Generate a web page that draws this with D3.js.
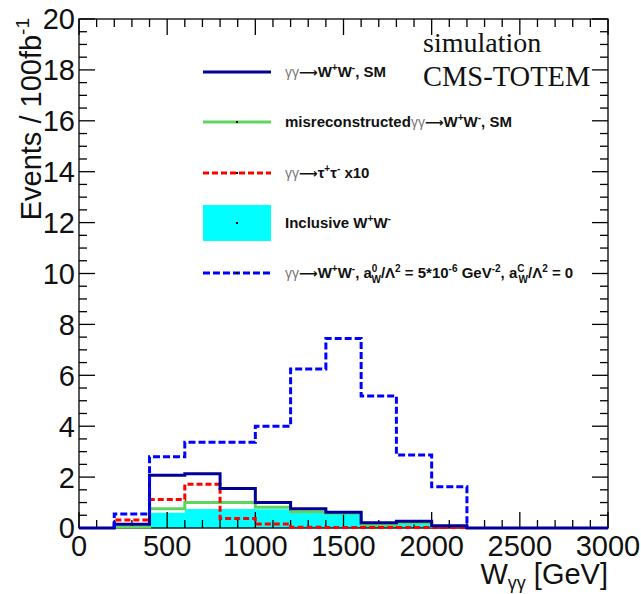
<!DOCTYPE html>
<html>
<head>
<meta charset="utf-8">
<script src="https://cdn.jsdelivr.net/npm/d3@7"></script>
<style>
  body { margin: 0; background: #fff; }
  svg { font-family: "Liberation Sans", Arial, sans-serif; }
</style>
</head>
<body>
<svg id="chart" width="641" height="594"></svg>
<script>
// bins are 200 GeV wide, lower edges below
var binLow = [0, 200, 400, 600, 800, 1000, 1200, 1400, 1600, 1800, 2000, 2200, 2400, 2600, 2800];
var binWidth = 200;

// events / 100 fb-1 (null = bin not drawn)
var smWW      = [0, 0.15, 2.07, 2.13, 1.55, 1.0, 0.76, 0.62, 0.21, 0.27, 0.09, 0, 0, 0, 0];
var misreco   = [null, 0.04, 0.76, 1.0, 1.0, 0.82, 0.64, 0.58, 0.12, 0.2, null, null, null, null, null];
var tautau10  = [null, 0.31, 1.12, 1.72, 0.37, 0.16, 0.03, 0.02, 0.02, 0.02, 0.02, null, null, null, null];
var inclWW    = [null, null, 0.6, 0.75, 0.75, 0.74, 0.66, 0.58, 0.1, 0.2, null, null, null, null, null];
var anomalous = [null, 0.55, 2.8, 3.37, 3.37, 4.0, 6.25, 7.45, 5.19, 2.87, 1.62, null, null, null, null];

var yMajor = [0, 2, 4, 6, 8, 10, 12, 14, 16, 18, 20];
var xMajor = [0, 500, 1000, 1500, 2000, 2500, 3000];

var svg = d3.select("#chart");

var padL = 79, padR = 608, padT = 19, padB = 528;

var x = d3.scaleLinear().domain([0, 3000]).range([padL, padR]);
var y = d3.scaleLinear().domain([0, 20]).range([padB, padT]);

// turn a series into step points, from first drawn bin to last one
function steps(vals) {
  var pts = [];
  var first = -1, last = -1;
  vals.forEach(function(v, i) {
    if (v === null) return;
    if (first < 0) first = i;
    last = i;
  });
  pts.push([binLow[first], 0]);
  for (var i = first; i <= last; i++) {
    pts.push([binLow[i], vals[i]]);
    pts.push([binLow[i] + binWidth, vals[i]]);
  }
  pts.push([binLow[last] + binWidth, 0]);
  return pts;
}

var line = d3.line()
  .x(function(d) { return x(d[0]); })
  .y(function(d) { return y(d[1]); });

var area = d3.area()
  .x(function(d) { return x(d[0]); })
  .y0(y(0))
  .y1(function(d) { return y(d[1]); });

// inclusive WW filled
svg.append("path")
  .attr("d", area(steps(inclWW)))
  .attr("fill", "#00ffff");

// axis ticks and frame, drawn over the fill
var axisG = svg.append("g").attr("stroke", "#000").attr("stroke-width", 1.3);

var yMinor = d3.range(0, 20.01, 0.5);
yMinor.forEach(function(v) {
  var major = v % 2 === 0;
  var len = major ? 16 : 8;
  axisG.append("line").attr("x1", padL).attr("x2", padL + len)
    .attr("y1", y(v)).attr("y2", y(v));
  axisG.append("line").attr("x1", padR).attr("x2", padR - len)
    .attr("y1", y(v)).attr("y2", y(v));
});
var xMinor = d3.range(0, 3001, 100);
xMinor.forEach(function(v) {
  var major = v % 500 === 0;
  var len = major ? 16 : 8;
  axisG.append("line").attr("x1", x(v)).attr("x2", x(v))
    .attr("y1", padB).attr("y2", padB - len);
  axisG.append("line").attr("x1", x(v)).attr("x2", x(v))
    .attr("y1", padT).attr("y2", padT + len);
});
axisG.append("rect")
  .attr("x", padL).attr("y", padT)
  .attr("width", padR - padL).attr("height", padB - padT)
  .attr("fill", "none");

// histograms
var series = [
  { vals: misreco,   color: "#5fd35f", dash: null },
  { vals: tautau10,  color: "#ff0000", dash: "6,3" },
  { vals: smWW,      color: "#000099", dash: null },
  { vals: anomalous, color: "#0000ff", dash: "7,3" }
];
series.forEach(function(s) {
  svg.append("path")
    .attr("d", line(steps(s.vals)))
    .attr("fill", "none")
    .attr("stroke", s.color)
    .attr("stroke-width", 3)
    .attr("stroke-dasharray", s.dash);
});

// tick labels
svg.selectAll(".ylab").data(yMajor).enter().append("text")
  .attr("class", "ylab")
  .attr("x", padL - 4)
  .attr("y", function(d) { return y(d); })
  .attr("dy", "0.36em")
  .attr("text-anchor", "end")
  .attr("font-size", 29)
  .attr("fill", "#111")
  .text(function(d) { return d; });

svg.selectAll(".xlab").data(xMajor).enter().append("text")
  .attr("class", "xlab")
  .attr("x", function(d) { return x(d); })
  .attr("y", 556)
  .attr("text-anchor", "middle")
  .attr("font-size", 29)
  .attr("fill", "#111")
  .text(function(d) { return d; });

// axis titles
var yt = svg.append("text")
  .attr("transform", "translate(41,18) rotate(-90)")
  .attr("text-anchor", "end")
  .attr("font-size", 29)
  .attr("fill", "#111");
yt.append("tspan").text("Events / 100fb");
yt.append("tspan").attr("font-size", 19).attr("dy", -12).text("-1");

var xt = svg.append("text")
  .attr("x", padR)
  .attr("y", 584)
  .attr("text-anchor", "end")
  .attr("font-size", 29)
  .attr("fill", "#111");
xt.append("tspan").text("W");
xt.append("tspan").attr("font-size", 18).attr("dy", 5).text("γγ");
xt.append("tspan").attr("dy", -5).text(" [GeV]");

// simulation label
svg.append("text").attr("x", 423).attr("y", 52)
  .attr("font-family", "Liberation Serif, serif").attr("font-size", 28)
  .attr("fill", "#111").text("simulation");
svg.append("text").attr("x", 423).attr("y", 86)
  .attr("font-family", "Liberation Serif, serif").attr("font-size", 28.5)
  .attr("fill", "#111").text("CMS-TOTEM");

// legend
var legendRows = [72, 122, 173, 223, 273];
var legendKind = ["line", "line", "line", "box", "line"];
var legendColor = ["#000099", "#5fd35f", "#ff0000", "#00ffff", "#0000ff"];
var legendDash = [null, null, "6,3", null, "7,3"];

// text pieces: g = greek symbol font, a = arrow, b = bold, sup / sub
var legendText = [
  [["γγ", "g"], ["⟶", "a"], ["W", "b"], ["+", "sup"], ["W", "b"], ["-", "sup"], [", SM", "b"]],
  [["misreconstructed", "b"], ["γγ", "g"], ["⟶", "a"], ["W", "b"], ["+", "sup"], ["W", "b"], ["-", "sup"], [", SM", "b"]],
  [["γγ", "g"], ["⟶", "a"], ["τ", "b"], ["+", "sup"], ["τ", "b"], ["-", "sup"], [" x10", "b"]],
  [["Inclusive W", "b"], ["+", "sup"], ["W", "b"], ["-", "sup"]],
  [["γγ", "g"], ["⟶", "a"], ["W", "b"], ["+", "sup"], ["W", "b"], ["-", "sup"], [", a", "b"], ["0", "supsub"], ["W", "sub"],
   ["/Λ", "b"], ["2", "sup"], [" = 5*10", "b"], ["-6", "sup"], [" GeV", "b"], ["-2", "sup"], [", a", "b"],
   ["C", "supsub"], ["W", "sub"], ["/Λ", "b"], ["2", "sup"], [" = 0", "b"]]
];

var lg = svg.append("g");
legendRows.forEach(function(ry, i) {
  if (legendKind[i] === "box") {
    lg.append("rect").attr("x", 203).attr("y", ry - 18)
      .attr("width", 68).attr("height", 36).attr("fill", legendColor[i]);
  } else {
    lg.append("line").attr("x1", 203).attr("x2", 271)
      .attr("y1", ry).attr("y2", ry)
      .attr("stroke", legendColor[i]).attr("stroke-width", 3)
      .attr("stroke-dasharray", legendDash[i]);
  }
  if (i > 0) {
    lg.append("rect").attr("x", 236).attr("y", ry - 1).attr("width", 2).attr("height", 2).attr("fill", "#000");
  }
  var t = lg.append("text").attr("x", 285).attr("y", ry + 5)
    .attr("font-size", 15).attr("fill", "#111");
  var shift = 0;
  legendText[i].forEach(function(p) {
    var ts = t.append("tspan").text(p[0]);
    var want = 0;
    if (p[1] === "g") {
      ts.attr("fill", "#777").attr("font-size", 14);
    } else if (p[1] === "a") {
      ts.attr("font-family", "DejaVu Sans").attr("font-size", 13).attr("font-weight", "bold");
    } else if (p[1] === "b") {
      ts.attr("font-weight", "bold");
    } else if (p[1] === "sup" || p[1] === "supsub") {
      ts.attr("font-weight", "bold").attr("font-size", 10);
      want = -6;
    } else if (p[1] === "sub") {
      ts.attr("font-weight", "bold").attr("font-size", 10);
      want = 5;
      ts.attr("dx", -6);
    }
    ts.attr("dy", want - shift);
    shift = want;
  });
});
</script>
</body>
</html>
